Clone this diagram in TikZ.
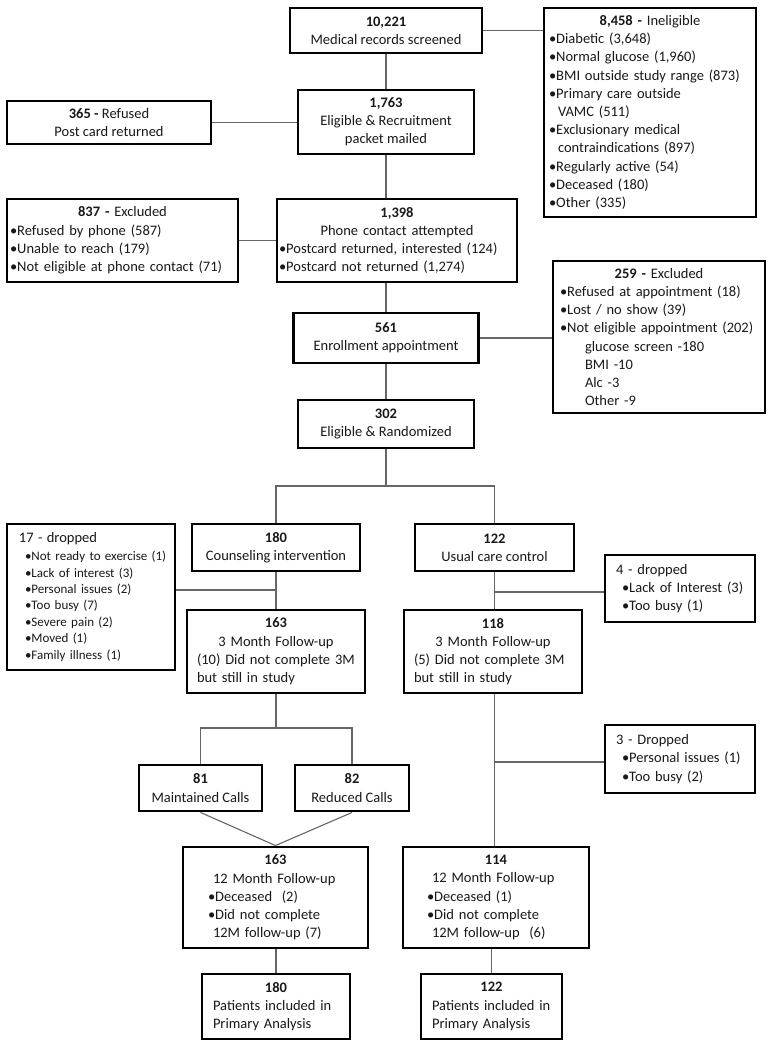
\documentclass[tikz,border=0pt]{standalone}
\usepackage{fontspec}
\setmainfont{Carlito}
\usetikzlibrary{calc}
\setlength{\parindent}{0pt}
\newcommand\fs{\fontsize{14.5}{18.2}\selectfont}
\newcommand\fss{\fontsize{13}{16.4}\selectfont}
\newcommand\cl[1]{\leavevmode\hbox to\hsize{\hfil#1\hfil}}
\begin{document}
\begin{tikzpicture}[x=1pt,y=-1pt,
  box/.style={draw=black, line width=2.9pt, inner sep=0pt, align=center, font=\fs, text=black!90},
  lbox/.style={box, align=left},
  wline/.style={draw=black!60, line width=1.1pt}]
\fill[white] (0,0) rectangle (775,1050);
\useasboundingbox (0,0) rectangle (775,1050);

% row 1
\node[box, minimum width=192pt, minimum height=45pt] (b1) at (386,30.5) {\textbf{10,221}\\Medical records screened};
\node[lbox, minimum width=212pt, minimum height=209pt, inner xsep=5pt, text width=202pt] (r1) at (650,112.5)
 {\cl{\textbf{8,458 -} Ineligible}\\
  •Diabetic (3,648)\\
  •Normal glucose (1,960)\\
  \mbox{•BMI outside study range (873)}\\
  •Primary care outside\\
  \hspace*{9pt}VAMC (511)\\
  •Exclusionary medical\\
  \hspace*{9pt}contraindications (897)\\
  •Regularly active (54)\\
  •Deceased (180)\\
  •Other (335)};
\node[box, minimum width=176pt, minimum height=64pt] (b2) at (386,122) {\textbf{1,763}\\Eligible \& Recruitment\\packet mailed};
\node[box, minimum width=204pt, minimum height=43pt] (l2) at (109,122.5) {\textbf{365 -} Refused\\Post card returned};

% row 3
\node[lbox, minimum width=240pt, minimum height=83pt, inner xsep=2pt, text width=236pt] (b3) at (397,240.5)
 {\cl{\textbf{1,398}}\\
  \cl{Phone contact attempted}\\
  \mbox{•Postcard returned, interested (124)}\\
  \mbox{•Postcard not returned (1,274)}};
\node[lbox, minimum width=231pt, minimum height=83pt, inner xsep=3pt, text width=225pt] (l3) at (122.5,240.5)
 {\cl{\textbf{837 -} Excluded}\\
  •Refused by phone (587)\\
  •Unable to reach (179)\\
  \mbox{•Not eligible at phone contact (71)}};

% row 4
\node[box, minimum width=185pt, minimum height=50pt] (b4) at (386,338) {\textbf{561}\\Enrollment appointment};
\node[lbox, minimum width=212pt, minimum height=152pt, inner xsep=7pt, text width=198pt] (r4) at (659,337)
 {\cl{\textbf{259 -} Excluded}\\
  •Refused at appointment (18)\\
  •Lost / no show (39)\\
  \mbox{•Not eligible appointment (202)}\\
  \hspace*{25pt}glucose screen -180\\
  \hspace*{25pt}BMI -10\\
  \hspace*{25pt}Alc -3\\
  \hspace*{25pt}Other -9};

% row 5
\node[box, minimum width=176pt, minimum height=48pt] (b5) at (386,424) {\textbf{302}\\Eligible \& Randomized};

% row 6
\node[box, minimum width=168pt, minimum height=47pt] (b6) at (276,547.5) {\textbf{180}\\Counseling intervention};
\node[box, minimum width=159pt, minimum height=47pt] (b7) at (494.5,547.5) {\textbf{122}\\Usual care control};
\node[lbox, font=\fss, minimum width=168pt, minimum height=146pt, inner xsep=12pt, text width=144pt] (l6) at (91,597)
 {{\fontsize{14.5}{16.4}\selectfont 17 - dropped}\\[1.6pt]
  \hspace*{6pt}\mbox{•Not ready to exercise (1)}\\
  \hspace*{6pt}•Lack of interest (3)\\
  \hspace*{6pt}•Personal issues (2)\\
  \hspace*{6pt}•Too busy (7)\\
  \hspace*{6pt}•Severe pain (2)\\
  \hspace*{6pt}•Moved (1)\\
  \hspace*{6pt}•Family illness (1)};
\node[lbox, minimum width=150pt, minimum height=67pt, inner xsep=11pt, text width=128pt] (r7) at (680,588.5)
 {4 - dropped\\
  \hspace*{6pt}•Lack of Interest (3)\\
  \hspace*{6pt}•Too busy (1)};

% row 7
\node[lbox, minimum width=178pt, minimum height=83pt, inner xsep=10pt, text width=158pt] (b8) at (276,651.5)
 {\cl{\textbf{163}}\\
  \cl{3 Month Follow-up}\\
  \mbox{(10) Did not complete 3M}\\
  but still in study};
\node[lbox, minimum width=178pt, minimum height=83pt, inner xsep=10pt, text width=158pt] (b9) at (493,651.5)
 {\cl{\textbf{118}}\\
  \cl{3 Month Follow-up}\\
  \mbox{(5) Did not complete 3M}\\
  but still in study};

% row 8
\node[box, minimum width=123pt, minimum height=46pt] (b10) at (200.5,788) {\textbf{81}\\Maintained Calls};
\node[box, minimum width=114pt, minimum height=46pt] (b11) at (352,788) {\textbf{82}\\Reduced Calls};
\node[lbox, minimum width=150pt, minimum height=68pt, inner xsep=11pt, text width=128pt] (r9) at (680,759)
 {3 - Dropped\\
  \hspace*{6pt}•Personal issues (1)\\
  \hspace*{6pt}•Too busy (2)};

% row 9
\node[lbox, minimum width=185pt, minimum height=101pt, inner xsep=25pt, text width=135pt] (b12) at (275.5,897.5)
 {\cl{\textbf{163}}\\
  \hspace*{5pt}12 Month Follow-up\\
  •Deceased\ \ (2)\\
  •Did not complete\\
  \hspace*{5pt}12M follow-up (7)};
\node[lbox, minimum width=186pt, minimum height=101pt, inner xsep=24pt, text width=138pt] (b13) at (496,897.5)
 {\cl{\textbf{114}}\\
  \hspace*{5pt}12 Month Follow-up\\
  •Deceased (1)\\
  •Did not complete\\
  \hspace*{5pt}12M follow-up\ \ (6)};

% row 10
\node[lbox, minimum width=148pt, minimum height=65pt, inner xsep=11pt, text width=126pt] (b14) at (276,1006.5)
 {\cl{\textbf{180}}\\
  \mbox{Patients included in}\\
  Primary Analysis};
\node[lbox, minimum width=141pt, minimum height=65pt, inner xsep=11pt, text width=119pt] (b15) at (491.5,1006.5)
 {\cl{\textbf{122}}\\
  \mbox{Patients included in}\\
  Primary Analysis};

% connectors
\draw[wline] (b1.east) -- (b1.east -| r1.west);
\draw[wline] (b1.south) -- (b2.north);
\draw[wline] (l2.east) -- (l2.east -| b2.west);
\draw[wline] (b2.south) -- (b2.south |- b3.north);
\draw[wline] (l3.east) -- (l3.east -| b3.west);
\draw[wline] (b3.south -| b4.north) -- (b4.north);
\draw[wline] (b4.east) -- (b4.east -| r4.west);
\draw[wline] (b4.south) -- (b5.north);
\coordinate (s1) at (386,486);
\draw[wline] (b5.south) -- (s1);
\draw[wline] (b6.north) |- (s1) -| (b7.north);
\draw[wline] (b6.south) -- (b8.north);
\coordinate (j1) at (276,590);
\draw[wline] (l6.east |- j1) -- (j1);
\draw[wline] (b7.south) -- (b7.south |- b9.north);
\coordinate (j2) at (494.5,592);
\draw[wline] (j2) -- (j2 -| r7.west);
\coordinate (s2) at (276,728);
\draw[wline] (b8.south) -- (s2);
\draw[wline] (b10.north) |- (s2) -| (b11.north);
\draw[wline] (b10.south) -- (b12.north);
\draw[wline] (b11.south) -- (b12.north);
\draw[wline] (b7.south |- b9.south) -- (b7.south |- b13.north);
\coordinate (j3) at (494.5,762);
\draw[wline] (j3) -- (j3 -| r9.west);
\draw[wline] (b14.north |- b12.south) -- (b14.north);
\draw[wline] (b15.north |- b13.south) -- (b15.north);
\end{tikzpicture}
\end{document}
